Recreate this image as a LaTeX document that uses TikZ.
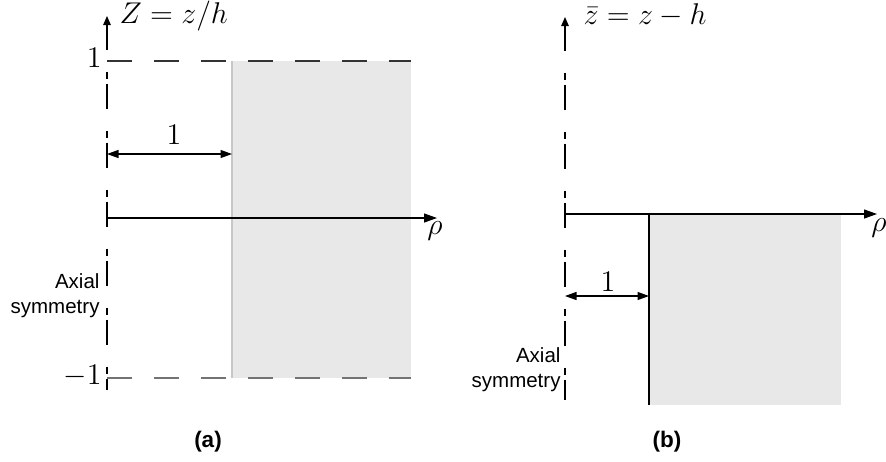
\documentclass[tikz,border=0pt]{standalone}
\usepackage{amsmath}
\usepackage{fontspec}
\newfontfamily\axfont{Liberation Sans}
\usetikzlibrary{arrows.meta}

\tikzset{
  symaxis/.style={line width=.5pt, dash pattern=on 10pt off 8.8pt on 2.8pt off 2pt,
    {Triangle[length=3.6pt,width=3pt]}-},
  raxis/.style={line width=.5pt, -{Triangle[length=5.2pt,width=3.6pt]}},
  span/.style={line width=.5pt, {Triangle[length=4.6pt,width=3.2pt]}-{Triangle[length=4.6pt,width=3.2pt]}},
  limit/.style={line width=.5pt, dash pattern=on 10pt off 8.8pt},
  body/.style={fill=black!9},
  mlabel/.style={inner sep=0pt, font=\fontsize{12}{14}\selectfont},
  axtext/.style={font=\axfont\fontsize{8.2}{10}\selectfont, align=right, inner sep=0pt},
  caption/.style={font=\axfont\bfseries\fontsize{9}{11}\selectfont}
}

\begin{document}
\begin{tikzpicture}[x=.4pt,y=-.4pt]
\useasboundingbox (0,0) rectangle (886,461);

% (a)
\coordinate (aO) at (107,218);
\coordinate (aT) at (107,16);
\coordinate (aB) at (107,390);
\coordinate (aR) at (437,218);
\coordinate (aUp) at (107,61);
\coordinate (aDn) at (107,378);
\coordinate (aIn) at (232,61);
\coordinate (aInB) at (232,378);
\coordinate (aOut) at (411,61);
\coordinate (aOutB) at (411,378);
\coordinate (aS) at (107,154);
\fill[body] (aIn) rectangle (aOutB);
\draw[black!22, line width=.5pt] (aIn) -- (aInB);
\draw[limit, black!80] (aUp) -- (aOut);
\draw[limit, black!55, line width=.8pt] (aDn) -- (aOutB);
\draw[symaxis] (aT) -- (aB);
\draw[raxis] (aO) -- (aR);
\draw[span] (aS) -- (aIn |- aS);
\node[mlabel, anchor=base west] (aZ) at (119,23) {$Z=z/h$};
\node[mlabel, anchor=base east] (aOne) at (102,67) {$1$};
\node[mlabel, anchor=base east] (aMOne) at (102,384) {$-1$};
\node[mlabel, anchor=base] (aSl) at (174,144) {$1$};
\node[mlabel, anchor=base] (aRho) at (435,234) {$\rho$};
\node[axtext, anchor=east] (aAx) at (100,296) {Axial\\symmetry};
\node[caption] (aCap) at (208,442) {(a)};

% (b)
\coordinate (bO) at (565,214);
\coordinate (bT) at (565,17);
\coordinate (bB) at (565,400);
\coordinate (bR) at (877,214);
\coordinate (bIn) at (649,214);
\coordinate (bInB) at (649,405);
\coordinate (bOutB) at (841,405);
\coordinate (bS) at (565,296);
\fill[body] (bIn) rectangle (bOutB);
\draw[line width=.5pt] (bIn) -- (bInB);
\draw[symaxis] (bT) -- (bB);
\draw[raxis] (bO) -- (bR);
\draw[span] (bS) -- (bIn |- bS);
\node[mlabel, anchor=base west] (bZ) at (583,24) {$\bar z=z-h$};
\node[mlabel, anchor=base] (bSl) at (608,291) {$1$};
\node[mlabel, anchor=base] (bRho) at (879,231) {$\rho$};
\node[axtext, anchor=east] (bAx) at (561,370) {Axial\\symmetry};
\node[caption] (bCap) at (667,442) {(b)};
\end{tikzpicture}
\end{document}
